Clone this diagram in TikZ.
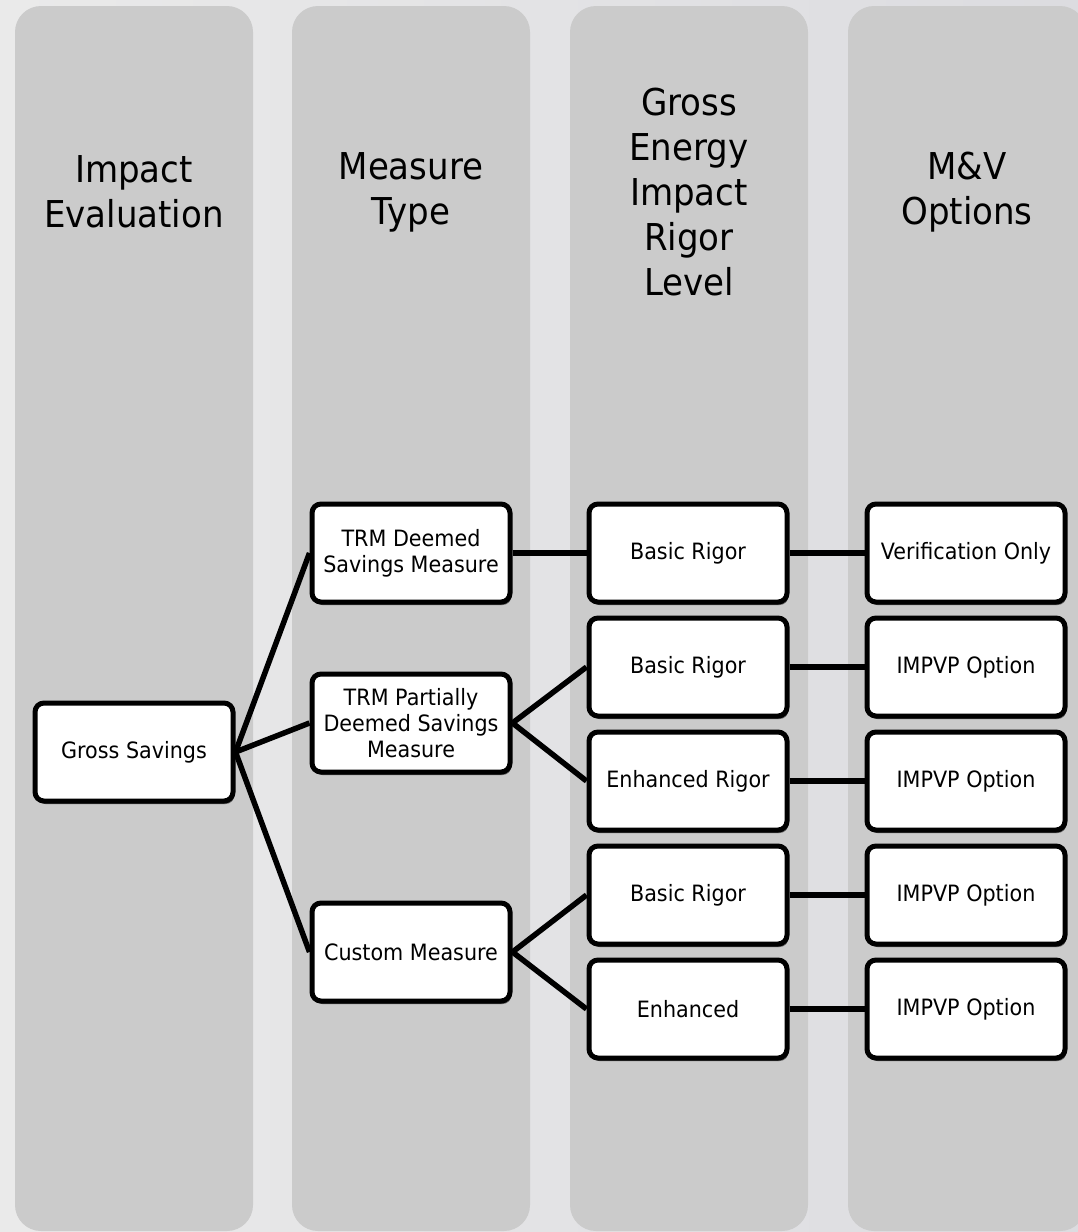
\documentclass[tikz,border=0pt]{standalone}
\usepackage{fontspec}
\setmainfont{DejaVu Sans}[FakeStretch=0.92]
\usetikzlibrary{positioning,shadows}

\definecolor{colgray}{HTML}{CBCBCB}
\definecolor{bgleft}{HTML}{EAEAEA}
\definecolor{bgright}{HTML}{DCDCE0}

\tikzstyle{line} = [draw, line width=5.5pt]
\tikzstyle{column} = [fill=colgray, rounded corners=26pt]
\tikzstyle{header} = [align=center, font=\fontsize{37}{45}\selectfont]
\tikzstyle{block} = [draw, rectangle, rounded corners=9pt, fill=white, line width=5pt, align=center, minimum width=198pt, minimum height=98pt, inner sep=2pt, node distance=0mm, font=\fontsize{22.5}{26}\selectfont, drop shadow={shadow xshift=1.5pt, shadow yshift=-3pt, fill=black, opacity=0.55}]

\begin{document}
\begin{tikzpicture}[x=1pt, y=1pt]
\useasboundingbox (0,0) rectangle (1078,-1232);
% fundo
\shade [left color=bgleft, right color=bgright] (0,0) rectangle (1078,-1232);
% colunas
\path [column] (15,-6) rectangle (253,-1231);
\path [column] (292,-6) rectangle (530,-1231);
\path [column] (570,-6) rectangle (808,-1231);
\path [column] (848,-6) rectangle (1086,-1231);
% titulos
\node [header] (hdimpact) at (134,-192) {Impact\\Evaluation};
\node [header] (hdtype) at (411,-192) {Measure\\Type};
\node [header] (hdrigor) at (689,-192) {Gross\\Energy\\Impact\\Rigor\\Level};
\node [header] (hdoptions) at (967,-192) {M\&V\\Options};
% primeiro nivel
\node [block] (gross) at (134,-752) {Gross Savings};
% segundo nivel
\node [block, right of=gross, xshift=277pt, yshift=199pt] (deemed) {TRM Deemed\\Savings Measure};
\node [block, right of=gross, xshift=277pt, yshift=29pt] (partial) {TRM Partially\\Deemed Savings\\Measure};
\node [block, right of=gross, xshift=277pt, yshift=-200pt] (custom) {Custom Measure};
% terceiro nivel
\node [block, right of=deemed, xshift=277pt] (basica) {Basic Rigor};
\node [block, right of=partial, xshift=277pt, yshift=56pt] (basicb) {Basic Rigor};
\node [block, right of=partial, xshift=277pt, yshift=-58pt] (enhana) {Enhanced Rigor};
\node [block, right of=custom, xshift=277pt, yshift=57pt] (basicc) {Basic Rigor};
\node [block, right of=custom, xshift=277pt, yshift=-57pt] (enhanb) {Enhanced};
% quarto nivel
\node [block, right of=basica, xshift=278pt] (verif) {Verification Only};
\node [block, right of=basicb, xshift=278pt] (impvpa) {IMPVP Option};
\node [block, right of=enhana, xshift=278pt] (impvpb) {IMPVP Option};
\node [block, right of=basicc, xshift=278pt] (impvpc) {IMPVP Option};
\node [block, right of=enhanb, xshift=278pt] (impvpd) {IMPVP Option};
%linhas
% niveis 1-2
\path [line] (gross.east) -- (deemed.west);
\path [line] (gross.east) -- (partial.west);
\path [line] (gross.east) -- (custom.west);
% niveis 2-3
\path [line] (deemed) -- (basica);
\path [line] (partial.east) -- (basicb.west);
\path [line] (partial.east) -- (enhana.west);
\path [line] (custom.east) -- (basicc.west);
\path [line] (custom.east) -- (enhanb.west);
% niveis 3-4
\path [line] (basica) -- (verif);
\path [line] (basicb) -- (impvpa);
\path [line] (enhana) -- (impvpb);
\path [line] (basicc) -- (impvpc);
\path [line] (enhanb) -- (impvpd);
\end{tikzpicture}
\end{document}
